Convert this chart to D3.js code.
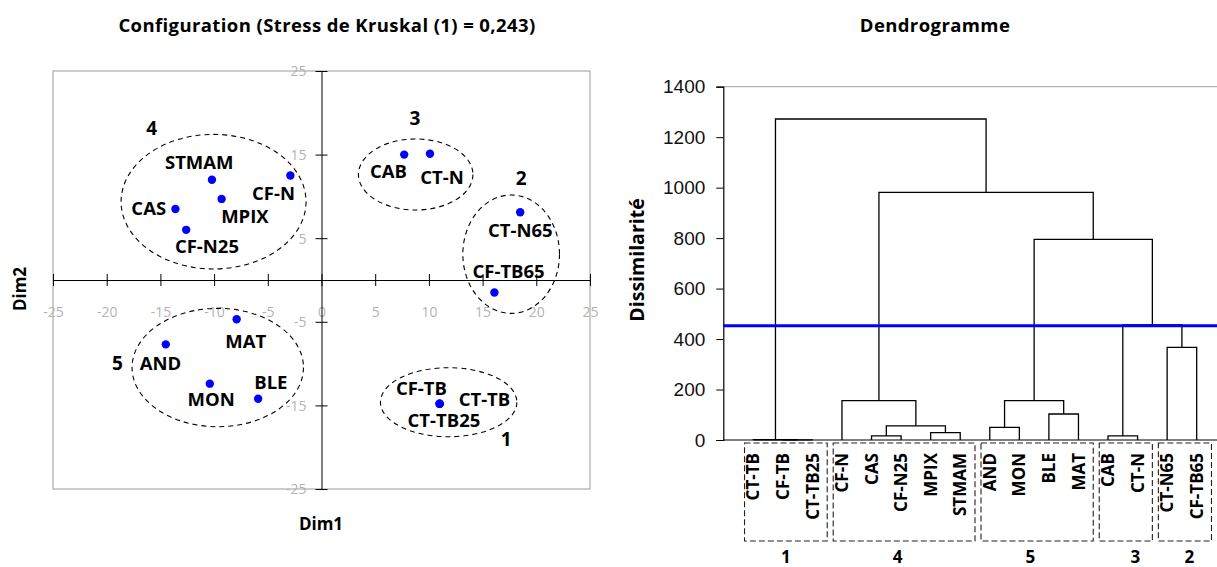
<!DOCTYPE html>
<html lang="fr">
<head>
<meta charset="utf-8">
<title>MDS et dendrogramme</title>
<script src="https://cdn.jsdelivr.net/npm/d3@7"></script>
<style>
  html, body { margin: 0; padding: 0; background: #fff; }
  svg { display: block; font-family: "Open Sans", "DejaVu Sans", sans-serif; }
</style>
</head>
<body>
<svg id="chart" width="1217" height="567"></svg>
<script>
// Observations, in the order used by the dendrogram leaves
const names = ["CT-TB", "CF-TB", "CT-TB25", "CF-N", "CAS", "CF-N25", "MPIX", "STMAM",
               "AND", "MON", "BLE", "MAT", "CAB", "CT-N", "CT-N65", "CF-TB65"];
// MDS coordinates
const dim1 = [11.0, 11.0, 11.0, -2.9, -13.6, -12.6, -9.3, -10.2,
              -14.5, -10.4, -5.9, -7.9, 7.7, 10.1, 18.5, 16.1];
const dim2 = [-14.8, -14.8, -14.8, 12.5, 8.5, 6.0, 9.7, 12.0,
              -7.7, -12.4, -14.2, -4.7, 15.0, 15.1, 8.1, -1.5];
// Class of each observation after cutting the tree
const classOf = [1, 1, 1, 4, 4, 4, 4, 4, 5, 5, 5, 5, 3, 3, 2, 2];

// Hand-drawn class envelopes, in MDS units: class, centre x, centre y, radius x, radius y
const envelopes = [
  [1, 11.84, -14.62, 6.35, 4.13],
  [2, 17.66, 3.09, 4.50, 7.08],
  [3, 8.77, 12.62, 5.33, 4.25],
  [4, -10.05, 9.37, 8.61, 8.05],
  [5, -9.66, -10.47, 7.98, 7.08]
];
// Class numbers written next to the envelopes, in MDS units
const classMarks = [
  [1, 17.2, -19.0],
  [2, 18.6, 12.2],
  [3, 8.7, 19.4],
  [4, -15.8, 18.2],
  [5, -19.0, -9.9]
];

const xTicks = [-25, -20, -15, -10, -5, 0, 5, 10, 15, 20, 25];
const yTicks = [25, 15, 5, -5, -15, -25];

// Agglomeration steps: [left, right, dissimilarity]; "nK" is the node built at step K
const merges = [
  ["CF-TB", "CT-TB25", 0.5],
  ["CT-TB", "n0", 1],
  ["CAS", "CF-N25", 16],
  ["MPIX", "STMAM", 29],
  ["n2", "n3", 56],
  ["CF-N", "n4", 156],
  ["AND", "MON", 50],
  ["BLE", "MAT", 103],
  ["n6", "n7", 156],
  ["CAB", "CT-N", 16],
  ["CT-N65", "CF-TB65", 367],
  ["n9", "n10", 456],
  ["n8", "n11", 795],
  ["n5", "n12", 981],
  ["n1", "n13", 1272]
];
const cutLevel = 453;
const dissTicks = [0, 200, 400, 600, 800, 1000, 1200, 1400];
const classOrder = [1, 4, 5, 3, 2];

// ---------- layout ----------
const svg = d3.select("#chart");
const BLUE = "#0000ff";

// label placement around each point: [dx, dy] in pixels (text centre, baseline)
const labelOffset = {
  "CT-TB": [44.8, 2.7], "CF-TB": [-18.2, -9], "CT-TB25": [4.3, 23.4],
  "CF-N": [-16.9, 24.3], "CAS": [-26.7, 5.7], "CF-N25": [20.8, 23.3],
  "MPIX": [23.3, 24.3], "STMAM": [-12.7, -11], "AND": [-5.2, 25.3],
  "MON": [1.3, 22.7], "BLE": [12.7, -10], "MAT": [9.1, 29],
  "CAB": [-15.8, 23.3], "CT-N": [12, 30.3], "CT-N65": [0.2, 24.4],
  "CF-TB65": [14.2, -14.4]
};

const minus = d => d < 0 ? "-" + Math.abs(d) : String(d);

// ===== Left panel: MDS configuration =====
const x = d3.scaleLinear().domain([-25, 25]).range([53, 590]);
const y = d3.scaleLinear().domain([-25, 25]).range([489, 71]);

svg.append("text")
  .attr("x", 327).attr("y", 32)
  .attr("text-anchor", "middle")
  .attr("font-size", 18.5).attr("font-weight", 700).attr("letter-spacing", 0.4)
  .text("Configuration (Stress de Kruskal (1) = 0,243)");

svg.append("rect")
  .attr("x", x(-25)).attr("y", y(25))
  .attr("width", x(25) - x(-25)).attr("height", y(-25) - y(25))
  .attr("fill", "none").attr("stroke", "#9a9a9a").attr("stroke-width", 1);

// x axis through the origin
const xAxis = d3.axisBottom(x).tickValues(xTicks).tickSize(0).tickFormat(minus);
const gx = svg.append("g").attr("transform", `translate(0,${y(0)})`).call(xAxis);
gx.select(".domain").attr("stroke", "#000");
gx.selectAll(".tick text")
  .attr("y", 0).attr("dy", 0)
  .attr("transform", "translate(0,37)")
  .attr("fill", "#b3b3b3").attr("font-size", 14).attr("font-family", "Open Sans");
gx.selectAll(".tick").append("line")
  .attr("y1", -6).attr("y2", 6).attr("stroke", "#000");

// y axis through the origin
const yAxis = d3.axisLeft(y).tickValues(yTicks).tickSize(0).tickFormat(minus);
const gy = svg.append("g").attr("transform", `translate(${x(0)},0)`).call(yAxis);
gy.select(".domain").attr("stroke", "#000");
gy.selectAll(".tick text")
  .attr("x", -15).attr("dy", "0.35em")
  .attr("fill", "#b3b3b3").attr("font-size", 14).attr("font-family", "Open Sans");
gy.selectAll(".tick").append("line")
  .attr("x1", -6).attr("x2", 6).attr("stroke", "#000");

// class envelopes
svg.append("g").selectAll("ellipse").data(envelopes).join("ellipse")
  .attr("cx", d => x(d[1])).attr("cy", d => y(d[2]))
  .attr("rx", d => x(d[3]) - x(0)).attr("ry", d => y(0) - y(d[4]))
  .attr("fill", "none").attr("stroke", "#000")
  .attr("stroke-width", 1.1).attr("stroke-dasharray", "5,4");

svg.append("g").selectAll("text").data(classMarks).join("text")
  .attr("x", d => x(d[1])).attr("y", d => y(d[2]))
  .attr("dy", "0.36em").attr("text-anchor", "middle")
  .attr("font-size", 19).attr("font-weight", 700)
  .text(d => d[0]);

// observations
const pts = names.map((n, i) => ({ name: n, d1: dim1[i], d2: dim2[i] }));
svg.append("g").selectAll("circle").data(pts).join("circle")
  .attr("cx", d => x(d.d1)).attr("cy", d => y(d.d2))
  .attr("r", 4.2).attr("fill", BLUE);

svg.append("g").selectAll("text").data(pts).join("text")
  .attr("x", d => x(d.d1) + labelOffset[d.name][0])
  .attr("y", d => y(d.d2) + labelOffset[d.name][1])
  .attr("text-anchor", "middle")
  .attr("font-size", 18.5).attr("font-weight", 700)
  .text(d => d.name);

svg.append("text")
  .attr("x", 321).attr("y", 530).attr("text-anchor", "middle")
  .attr("font-size", 17).attr("font-weight", 700).text("Dim1");
svg.append("text")
  .attr("transform", "translate(26,289) rotate(-90)").attr("text-anchor", "middle")
  .attr("font-size", 17).attr("font-weight", 700).text("Dim2");

// ===== Right panel: dendrogram =====
const AX = 723.3;
const RIGHT = 1217;
const yd = d3.scaleLinear().domain([0, 1400]).range([440, 86.7]);
const xd = d3.scalePoint().domain(names).range([753.3, 1196.7]);

svg.append("text")
  .attr("x", 935).attr("y", 32).attr("text-anchor", "middle")
  .attr("font-size", 18.5).attr("font-weight", 700).attr("letter-spacing", 0.4)
  .text("Dendrogramme");

// top frame line
svg.append("line")
  .attr("x1", AX).attr("x2", RIGHT).attr("y1", yd(1400)).attr("y2", yd(1400))
  .attr("stroke", "#b5b5b5").attr("stroke-width", 1.2);

const dAxis = d3.axisLeft(yd).tickValues(dissTicks).tickSize(7).tickPadding(11)
  .tickFormat(d3.format("d"));
const gd = svg.append("g").attr("transform", `translate(${AX},0)`).call(dAxis);
gd.select(".domain").attr("stroke", "#000").attr("stroke-width", 1.2);
gd.selectAll(".tick line").attr("stroke", "#000");
gd.selectAll(".tick text").attr("font-size", 19).attr("fill", "#111");

svg.append("line")
  .attr("x1", AX).attr("x2", RIGHT).attr("y1", yd(0)).attr("y2", yd(0))
  .attr("stroke", "#000").attr("stroke-width", 1.2);

svg.append("text")
  .attr("transform", "translate(644,260) rotate(-90)").attr("text-anchor", "middle")
  .attr("font-size", 19.5).attr("font-weight", 700).text("Dissimilarité");

// build node positions from the agglomeration steps
const nodes = {};
names.forEach(n => { nodes[n] = { x: xd(n), h: 0 }; });
const links = [];
merges.forEach((m, k) => {
  const a = nodes[m[0]], b = nodes[m[1]];
  nodes["n" + k] = { x: (a.x + b.x) / 2, h: m[2] };
  links.push({ a, b, h: m[2] });
});

svg.append("g").selectAll("path").data(links).join("path")
  .attr("d", l => `M${l.a.x},${yd(l.a.h)}V${yd(l.h)}H${l.b.x}V${yd(l.b.h)}`)
  .attr("fill", "none").attr("stroke", "#000").attr("stroke-width", 1.3);

// truncation level
svg.append("line")
  .attr("x1", AX).attr("x2", RIGHT).attr("y1", yd(cutLevel)).attr("y2", yd(cutLevel))
  .attr("stroke", BLUE).attr("stroke-width", 3);

// leaf labels
svg.append("g").selectAll("text").data(names).join("text")
  .attr("transform", n => `translate(${xd(n)},453) rotate(-90)`)
  .attr("dy", "0.36em").attr("text-anchor", "end")
  .attr("font-size", 17).attr("font-weight", 700)
  .text(n => n);

// boxes around each class of leaves
const step = xd.step();
const groupNumShift = { 1: 3, 4: -3.5, 5: -3.7, 3: 12.5, 2: 7.5 };
const groups = classOrder.map(c => {
  const members = names.filter((n, i) => classOf[i] === c);
  const xs = members.map(n => xd(n));
  return { c, x0: d3.min(xs), x1: d3.max(xs), mean: d3.mean(xs) };
});
svg.append("g").selectAll("rect").data(groups).join("rect")
  .attr("x", g => g.x0 - step / 2 + 6).attr("y", 443)
  .attr("width", g => g.x1 - g.x0 + step - 6).attr("height", 98)
  .attr("fill", "none").attr("stroke", "#222")
  .attr("stroke-width", 1.1).attr("stroke-dasharray", "6,3");

svg.append("g").selectAll("text").data(groups).join("text")
  .attr("x", g => g.mean + groupNumShift[g.c]).attr("y", 563)
  .attr("text-anchor", "middle")
  .attr("font-size", 17).attr("font-weight", 700)
  .text(g => g.c);
</script>
</body>
</html>
